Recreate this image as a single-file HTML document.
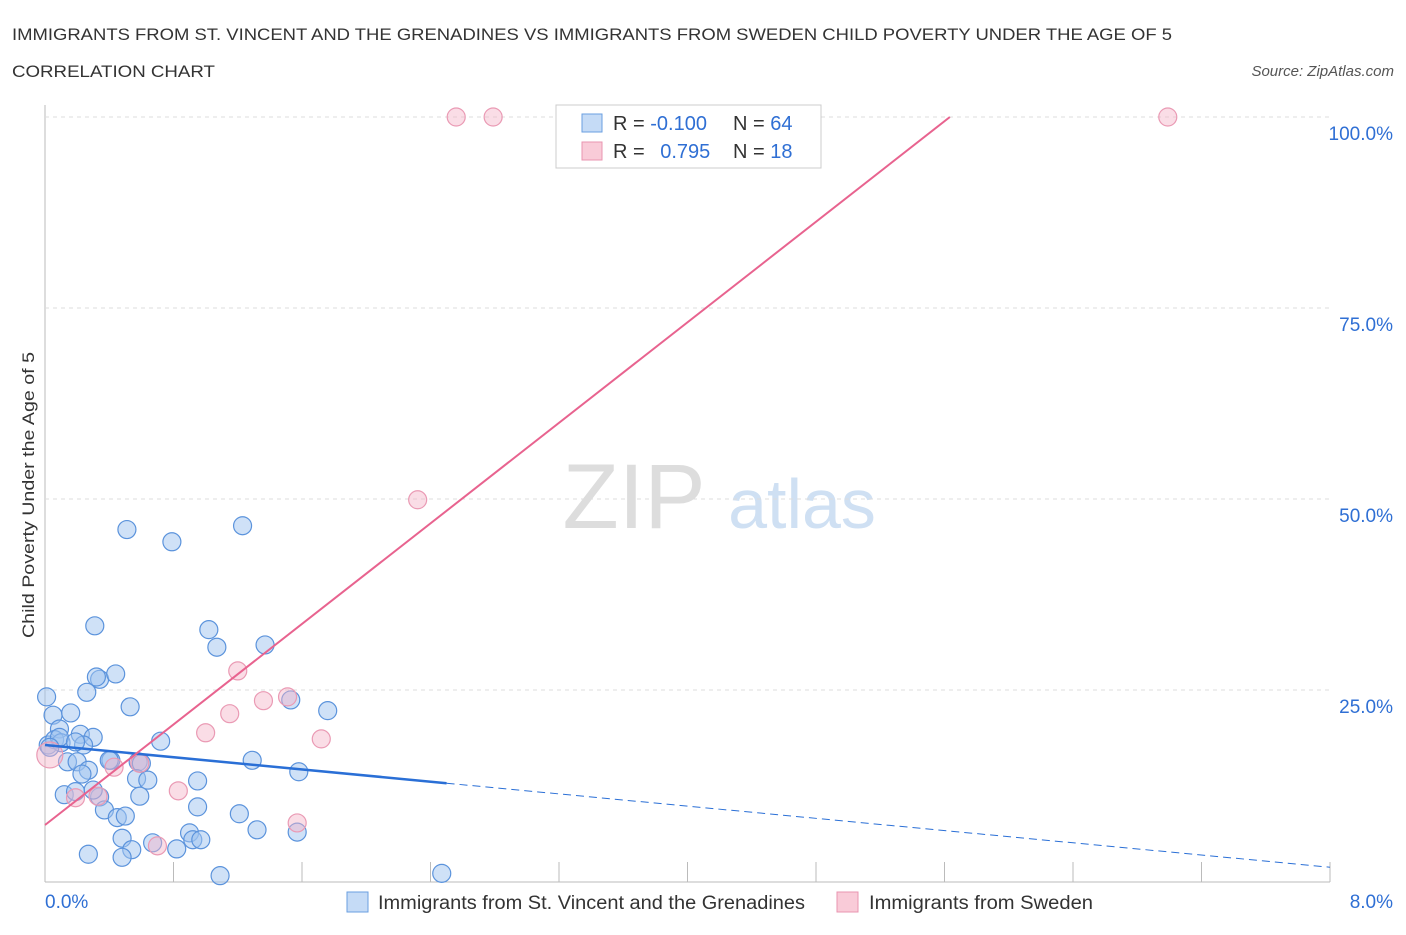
<!DOCTYPE html>
<html><head><meta charset="utf-8"><style>
body{margin:0;background:#fff;font-family:"Liberation Sans",sans-serif;}
svg text{font-family:"Liberation Sans",sans-serif;}
</style></head><body>
<svg id="c" width="1406" height="930" xmlns="http://www.w3.org/2000/svg">
<text x="12" y="40" font-size="17" fill="#333" textLength="1160" lengthAdjust="spacingAndGlyphs">IMMIGRANTS FROM ST. VINCENT AND THE GRENADINES VS IMMIGRANTS FROM SWEDEN CHILD POVERTY UNDER THE AGE OF 5</text>
<text x="12" y="77" font-size="17" fill="#333" textLength="203" lengthAdjust="spacingAndGlyphs">CORRELATION CHART</text>
<text x="1394" y="76" font-size="15" fill="#555" font-style="italic" text-anchor="end">Source: ZipAtlas.com</text>
<text x="634" y="528" font-size="92" fill="#ddd" font-family="Liberation Serif" text-anchor="middle">ZIP</text>
<text x="802" y="528" font-size="70" fill="#cfe0f3" text-anchor="middle">atlas</text>
<text transform="translate(34,495) rotate(-90)" font-size="17" fill="#333" text-anchor="middle" textLength="286" lengthAdjust="spacingAndGlyphs">Child Poverty Under the Age of 5</text>
<g id="grid"></g><g id="pts"></g><g id="lines"></g>
<g>
<rect x="556" y="105" width="265" height="63" fill="#fff" stroke="#ccc"/>
<rect x="582" y="114" width="20" height="18" fill="#c5dbf6" stroke="#6a9fe0"/>
<rect x="582" y="142" width="20" height="18" fill="#f9cbd8" stroke="#e995b0"/>
<text x="613" y="130" font-size="20" fill="#333">R = <tspan fill="#2f6fd4">-0.100</tspan></text>
<text x="733" y="130" font-size="20" fill="#333">N = <tspan fill="#2f6fd4">64</tspan></text>
<text x="613" y="158" font-size="20" fill="#333">R =  <tspan fill="#2f6fd4" dx="10">0.795</tspan></text>
<text x="733" y="158" font-size="20" fill="#333">N =  <tspan fill="#2f6fd4">18</tspan></text>
</g>
<g>
<rect x="347" y="892" width="21" height="20" fill="#c5dbf6" stroke="#6a9fe0"/>
<text x="378" y="909" font-size="19" fill="#333" textLength="427" lengthAdjust="spacingAndGlyphs">Immigrants from St. Vincent and the Grenadines</text>
<rect x="837" y="892" width="21" height="20" fill="#f9cbd8" stroke="#e995b0"/>
<text x="869" y="909" font-size="19" fill="#333" textLength="224" lengthAdjust="spacingAndGlyphs">Immigrants from Sweden</text>
</g>
</svg>
<script>
const xTicks=[0,0.8,1.6,2.4,3.2,4.0,4.8,5.6,6.4,7.2,8];
const yTicks=[25,50,75,100];
const blueX=[0.01,0.05,0.16,0.09,0.02,0.06,0.1,0.22,0.3,0.24,0.14,0.2,0.27,0.23,0.34,0.32,0.26,0.44,0.31,0.51,0.79,1.23,1.02,1.07,1.37,0.53,0.72,0.41,0.58,0.6,0.57,0.64,0.59,0.12,0.19,0.34,0.37,0.45,0.5,0.48,0.54,0.48,0.27,0.67,0.82,0.9,0.92,0.97,1.09,0.95,0.95,1.21,1.29,1.32,1.57,1.58,1.53,1.76,2.47,0.3,0.4,0.09,0.03,0.19];
const blueY=[24.1,21.7,22.0,19.9,17.8,18.5,18.1,19.2,18.8,17.8,15.6,15.6,14.5,14.0,26.4,26.7,24.7,27.1,33.4,46.0,44.4,46.5,32.9,30.6,30.9,22.8,18.3,15.8,15.6,15.4,13.4,13.2,11.1,11.3,11.7,11.0,9.3,8.3,8.5,5.6,4.1,3.1,3.5,5.0,4.2,6.3,5.4,5.4,0.7,9.7,13.1,8.8,15.8,6.7,6.4,14.3,23.7,22.3,1.0,11.9,15.8,18.8,17.5,18.2];
const pinkX=[2.56,2.79,6.99,2.32,1.2,1.36,1.51,1.15,1.0,1.72,0.43,0.59,0.83,0.33,0.19,1.57,0.7,0.03];
const pinkY=[100,100,100,49.9,27.5,23.6,24.1,21.9,19.4,18.6,14.9,15.4,11.8,11.1,10.9,7.6,4.6,16.5];
const blueA=17.8, blueB=-2.0, pinkA=7.33, pinkB=16.45;
const X=v=>45+v/8*1285, Y=v=>881-v*7.64;
const NS="http://www.w3.org/2000/svg";
function mk(p,t,a){const e=document.createElementNS(NS,t);for(const k in a)e.setAttribute(k,a[k]);document.getElementById(p).appendChild(e);return e;}
let e=mk('grid','line',{x1:45,y1:105,x2:45,y2:882,stroke:'#bbb'});

e=mk('grid','line',{x1:45,y1:882,x2:1330,y2:882,stroke:'#bbb'});

xTicks.forEach(t=>{const l=mk('grid','line',{x1:X(t),y1:862,x2:X(t),y2:882,stroke:'#bbb'});
});
yTicks.forEach(t=>{const l=mk('grid','line',{x1:45,y1:Y(t),x2:1330,y2:Y(t),stroke:'#ddd','stroke-dasharray':'4,4'});

const tx=mk('grid','text',{x:1393,y:Y(t)+23,'font-size':19,fill:'#2f6fd4','text-anchor':'end'});tx.textContent=t.toFixed(1)+'%';
});
let t0=mk('grid','text',{x:45,y:908,'font-size':19,fill:'#2f6fd4'});t0.textContent='0.0%';

let t8=mk('grid','text',{x:1393,y:908,'font-size':19,fill:'#2f6fd4','text-anchor':'end'});t8.textContent='8.0%';

blueX.forEach((x,i)=>{const c=mk('pts','circle',{cx:X(x),cy:Y(blueY[i]),r:9,fill:'rgba(160,196,240,0.5)',stroke:'#5b93dc','stroke-width':1.2});
});
pinkX.forEach((x,i)=>{const c=mk('pts','circle',{cx:X(x),cy:Y(pinkY[i]),r:i==17?13:9,fill:'rgba(245,180,200,0.45)',stroke:'#ea9ab4','stroke-width':1.2});
});
let b=mk('lines','line',{x1:X(0),y1:Y(blueA),x2:X(2.5),y2:Y(blueA+blueB*2.5),stroke:'#2a6fd6','stroke-width':2.5});

b=mk('lines','line',{x1:X(2.5),y1:Y(blueA+blueB*2.5),x2:X(8),y2:Y(blueA+blueB*8),stroke:'#2a6fd6','stroke-width':1,'stroke-dasharray':'8,5'});

const xe=(100-pinkA)/pinkB;
let p=mk('lines','line',{x1:X(0),y1:Y(pinkA),x2:X(xe),y2:Y(100),stroke:'#e8638f','stroke-width':2});

</script>
</body></html>
